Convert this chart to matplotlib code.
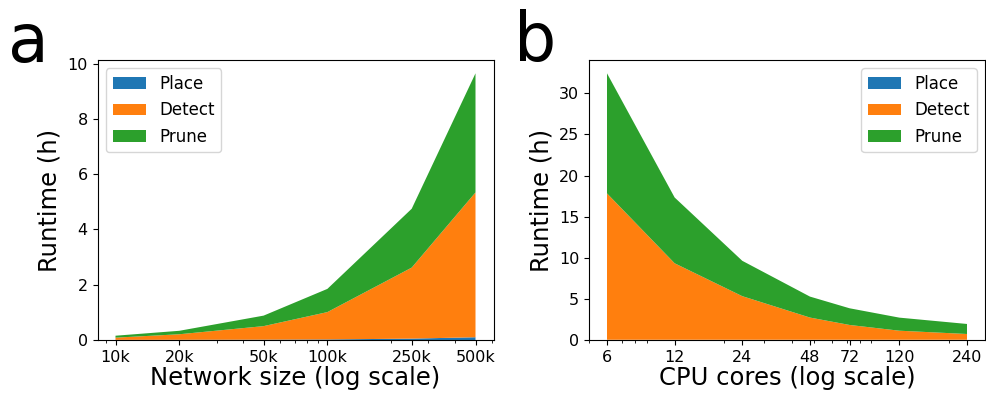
import matplotlib
matplotlib.use("Agg")
import matplotlib.pyplot as plt
from matplotlib.ticker import FixedLocator, FixedFormatter, NullFormatter

# Panel a: network size
net_sizes = [10000, 20000, 50000, 100000, 250000, 500000]
net_labels = ["10k", "20k", "50k", "100k", "250k", "500k"]
net_place = [0.005, 0.008, 0.012, 0.02, 0.05, 0.1]
net_detect = [0.08, 0.2, 0.49, 0.99, 2.57, 5.24]
net_prune = [0.07, 0.125, 0.38, 0.84, 2.13, 4.31]

# Panel b: CPU cores
cores = [6, 12, 24, 48, 72, 120, 240]
core_labels = ["6", "12", "24", "48", "72", "120", "240"]
core_place = [0.03, 0.03, 0.03, 0.03, 0.03, 0.03, 0.03]
core_detect = [17.8, 9.3, 5.3, 2.7, 1.8, 1.1, 0.7]
core_prune = [14.6, 8.0, 4.3, 2.55, 2.03, 1.59, 1.22]

series_names = ["Place", "Detect", "Prune"]
colors = ["#1f77b4", "#ff7f0e", "#2ca02c"]

fig = plt.figure(figsize=(9.86, 3.96), dpi=100)
ax1 = fig.add_axes([97.5/986, 56/396, 396/986, 280/396])
ax2 = fig.add_axes([589/986, 56/396, 396/986, 280/396])

def panel(ax, x, ys, labels, xlabel, loc):
    ax.stackplot(x, *ys, labels=series_names, colors=colors)
    ax.set_xscale("log")
    ax.xaxis.set_major_locator(FixedLocator(x))
    ax.xaxis.set_major_formatter(FixedFormatter(labels))
    ax.xaxis.set_minor_formatter(NullFormatter())
    ax.set_xlabel(xlabel, fontsize=17.5, labelpad=1)
    ax.set_ylabel("Runtime (h)", fontsize=17.5, labelpad=4)
    ax.tick_params(axis="both", labelsize=11.5)
    ax.legend(loc=loc, fontsize=12)

panel(ax1, net_sizes, [net_place, net_detect, net_prune], net_labels,
      "Network size (log scale)", "upper left")
panel(ax2, cores, [core_place, core_detect, core_prune], core_labels,
      "CPU cores (log scale)", "upper right")

fig.text(8/986, 1 - 62/396, "a", fontsize=48, va="baseline", ha="left")
fig.text(514/986, 1 - 61/396, "b", fontsize=48, va="baseline", ha="left")

fig.savefig("out.png", dpi=100)
